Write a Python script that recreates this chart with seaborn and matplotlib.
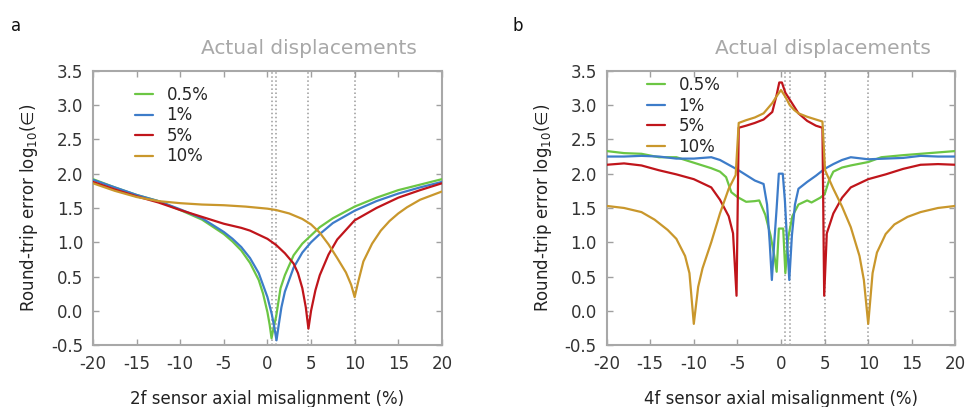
import matplotlib
matplotlib.use("Agg")
import matplotlib.pyplot as plt
import seaborn as sns

# ---- panel a: 2f sensor ----
a_green_x = [-20, -17.5, -15, -12.5, -10, -7.5, -5, -4, -3, -2, -1, -0.5, 0, 0.25, 0.47,
             0.7, 1, 1.5, 2, 3, 4, 5, 6, 7.5, 10, 12.5, 15, 17.5, 20]
a_green_y = [1.92, 1.80, 1.69, 1.60, 1.47, 1.33, 1.12, 1.01, 0.88, 0.70, 0.45, 0.25, -0.02, -0.20, -0.40,
             -0.25, -0.08, 0.33, 0.52, 0.81, 0.98, 1.10, 1.22, 1.35, 1.52, 1.65, 1.76, 1.84, 1.92]

a_blue_x = [-20, -17.5, -15, -12.5, -10, -7.5, -5, -4, -3, -2, -1, 0, 0.5, 0.8, 1.04,
            1.3, 1.6, 2, 3, 4, 5, 6, 7.5, 10, 12.5, 15, 17.5, 20]
a_blue_y = [1.91, 1.80, 1.69, 1.60, 1.48, 1.35, 1.15, 1.05, 0.93, 0.77, 0.55, 0.20, -0.05, -0.25, -0.43,
            -0.20, 0.05, 0.28, 0.63, 0.85, 1.00, 1.12, 1.28, 1.46, 1.60, 1.71, 1.80, 1.88]

a_red_x = [-20, -17.5, -15, -12.5, -10, -7.5, -5, -3, -2, -1, 0, 1, 2, 3, 3.5, 4, 4.4, 4.7,
           5.0, 5.5, 6, 7, 8, 10, 12.5, 15, 17.5, 20]
a_red_y = [1.88, 1.77, 1.67, 1.58, 1.47, 1.37, 1.27, 1.21, 1.17, 1.11, 1.05, 0.96, 0.84, 0.69, 0.55, 0.33, 0.05, -0.26,
           0.00, 0.30, 0.52, 0.82, 1.04, 1.32, 1.50, 1.65, 1.76, 1.86]

a_gold_x = [-20, -17.5, -15, -12.5, -10, -7.5, -5, -2.5, 0, 1, 2.5, 4, 5, 6, 7, 8, 9, 9.6,
            10, 10.4, 11, 12, 13, 14, 15, 16, 17.5, 20]
a_gold_y = [1.86, 1.75, 1.66, 1.60, 1.57, 1.55, 1.54, 1.52, 1.49, 1.47, 1.42, 1.34, 1.26, 1.14, 0.97, 0.77, 0.56, 0.38,
            0.20, 0.42, 0.72, 0.98, 1.17, 1.31, 1.42, 1.51, 1.62, 1.74]

# ---- panel b: 4f sensor ----
b_green_x = [-20, -18, -16, -14, -12, -10, -8, -7, -6.3, -5.7, -5, -4, -3, -2.5, -1.8, -1.2, -0.7, -0.5,
             -0.25, 0.25, 0.5, 0.8, 1.3, 2, 3, 3.5, 4.5, 5, 5.5, 6, 7, 8, 10, 11.5, 14, 17, 20]
b_green_y = [2.33, 2.30, 2.29, 2.24, 2.24, 2.16, 2.08, 2.03, 1.95, 1.73, 1.66, 1.59, 1.60, 1.61, 1.40, 1.10, 0.75, 0.57,
             1.20, 1.20, 0.55, 1.05, 1.38, 1.55, 1.61, 1.58, 1.65, 1.70, 1.90, 2.03, 2.09, 2.12, 2.17, 2.24, 2.27, 2.30, 2.33]

b_blue_x = [-20, -18, -16, -14, -12, -10, -8, -7, -6, -5, -4, -3, -2, -1.6, -1.3, -1.05, -0.8, -0.5,
            -0.25, 0.2, 0.45, 0.7, 0.95, 1.25, 1.6, 2, 3, 4, 5, 6, 7, 8, 10, 12, 14, 16, 18, 20]
b_blue_y = [2.25, 2.25, 2.26, 2.25, 2.22, 2.22, 2.24, 2.20, 2.13, 2.06, 1.98, 1.90, 1.85, 1.55, 1.00, 0.45, 0.95, 1.50,
            2.00, 2.00, 1.60, 1.00, 0.45, 1.10, 1.55, 1.78, 1.88, 1.97, 2.07, 2.14, 2.20, 2.24, 2.21, 2.22, 2.23, 2.26, 2.25, 2.25]

b_red_x = [-20, -18, -16, -14, -12, -10, -8, -7, -6, -5.5, -5.1, -4.85, -4, -3, -2, -1, -0.5, -0.2,
           0.1, 0.5, 1, 2, 3, 4, 4.75, 4.95, 5.25, 6, 7, 8, 10, 12, 14, 16, 18, 20]
b_red_y = [2.13, 2.15, 2.12, 2.05, 1.99, 1.92, 1.80, 1.62, 1.38, 1.13, 0.22, 2.67, 2.70, 2.74, 2.79, 2.90, 3.15, 3.33,
           3.33, 3.18, 3.08, 2.88, 2.77, 2.70, 2.67, 0.22, 1.13, 1.42, 1.65, 1.80, 1.92, 1.99, 2.07, 2.13, 2.14, 2.13]

b_gold_x = [-20, -18, -16, -14.5, -13, -12, -11, -10.5, -10, -9.5, -9, -8, -7, -6, -5.2, -4.85, -4, -3, -2,
            -1, -0.5, 0, 0.5, 1, 1.5, 2, 3, 4, 4.75, 5.05, 6, 7, 8, 9, 9.5, 10, 10.5, 11, 12, 13, 14.5, 16, 18, 20]
b_gold_y = [1.53, 1.50, 1.44, 1.33, 1.18, 1.05, 0.80, 0.55, -0.19, 0.35, 0.62, 1.00, 1.42, 1.78, 1.98, 2.74, 2.78, 2.82, 2.88,
            3.03, 3.13, 3.22, 3.12, 3.00, 2.93, 2.88, 2.83, 2.79, 2.76, 2.05, 1.78, 1.52, 1.22, 0.80, 0.45, -0.19, 0.55, 0.85,
            1.12, 1.26, 1.37, 1.44, 1.50, 1.53]

labels = ["0.5%", "1%", "5%", "10%"]
colors = ["#6cc644", "#3d7cc9", "#c0151b", "#c9972c"]
a_lines = [0.5, 1.0, 4.65, 10.0]
b_lines = [0.5, 1.0, 5.0, 10.0]

sns.set_style("ticks")
plt.rcParams["font.family"] = ["DejaVu Sans"]

fig = plt.figure(figsize=(9.69, 4.07), dpi=100)
ax_a = fig.add_axes([0.096, 0.152, 0.360, 0.674])
ax_b = fig.add_axes([0.626, 0.152, 0.360, 0.674])

panels = [
    (ax_a, [(a_green_x, a_green_y), (a_blue_x, a_blue_y), (a_red_x, a_red_y), (a_gold_x, a_gold_y)],
     a_lines, "2f sensor axial misalignment (%)", (0.12, 0.945)),
    (ax_b, [(b_green_x, b_green_y), (b_blue_x, b_blue_y), (b_red_x, b_red_y), (b_gold_x, b_gold_y)],
     b_lines, "4f sensor axial misalignment (%)", (0.115, 0.98)),
]

for ax, series, vlines, xlab, leg_pos in panels:
    for xv in vlines:
        ax.axvline(xv, color="#9a9a9a", ls=":", lw=1.1, zorder=1)
    for (xs, ys), lab, col in zip(series, labels, colors):
        sns.lineplot(x=xs, y=ys, ax=ax, color=col, label=lab, lw=1.6, zorder=3)
    ax.set_xlim(-20, 20)
    ax.set_ylim(-0.5, 3.5)
    ax.set_xticks(range(-20, 21, 5))
    ax.set_yticks([-0.5, 0, 0.5, 1, 1.5, 2, 2.5, 3, 3.5])
    ax.set_yticklabels(["-0.5", "0.0", "0.5", "1.0", "1.5", "2.0", "2.5", "3.0", "3.5"])
    ax.set_xticklabels([str(t) for t in range(-20, 21, 5)])
    ax.tick_params(direction="in", length=4, width=1, color="#a0a0a0", labelsize=12,
                   labelcolor="#333333", top=True, right=True, pad=7)
    for sp in ax.spines.values():
        sp.set_color("#a8a8a8")
        sp.set_linewidth(1.5)
    ax.set_xlabel(xlab, fontsize=12, color="#222222", labelpad=12)
    ax.set_ylabel("Round-trip error log$_{10}$(\u2208)", fontsize=12, color="#222222", labelpad=8)
    ax.text(0.62, 1.08, "Actual displacements", transform=ax.transAxes, ha="center", va="center",
            fontsize=14.5, color="#a8a8a8")
    ax.legend(loc="upper left", bbox_to_anchor=leg_pos, frameon=False, fontsize=12,
              handlelength=1.1, handletextpad=0.8, labelspacing=0.15, borderpad=0, borderaxespad=0)

fig.text(0.011, 0.925, "a", fontsize=12, color="#111111")
fig.text(0.529, 0.925, "b", fontsize=12, color="#111111")

fig.savefig("out.png", dpi=100)
